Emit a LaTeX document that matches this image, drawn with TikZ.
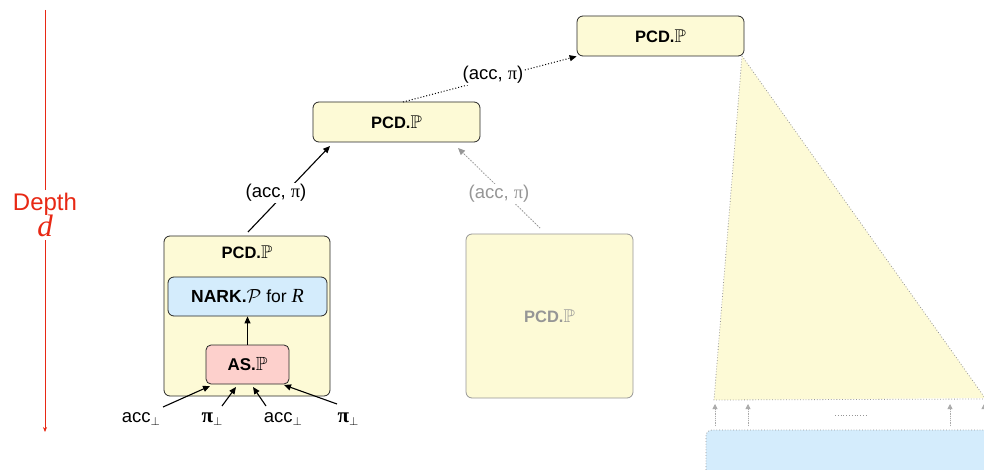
\documentclass[tikz,border=0pt]{standalone}
\usepackage{amssymb}
\usepackage{fontspec}
\setmainfont{Liberation Sans}
\newfontfamily\serifpi{Liberation Serif}
\usetikzlibrary{arrows.meta}
\definecolor{pcdyellow}{RGB}{253,250,214}
\definecolor{narkblue}{RGB}{212,236,252}
\definecolor{aspink}{RGB}{253,208,204}
\definecolor{depthred}{RGB}{232,40,20}
\definecolor{greytext}{RGB}{150,150,150}
\newcommand{\mypi}{{\serifpi π}}
\newcommand{\bbP}{\scalebox{1.12}{$\mathbb{P}$}}
\newcommand{\PCD}{\textbf{PCD.}\bbP}
\newcommand{\subperp}{\raisebox{-3pt}{\fontsize{12}{12}\selectfont$\perp$}}
\tikzset{
  x=1pt, y=-1pt,
  boxfont/.style={font=\fontsize{16.5}{19}\selectfont},
  box/.style={draw=black!85, line width=0.8pt, rounded corners=6pt, fill=pcdyellow, boxfont},
  lbl/.style={font=\fontsize{18.5}{21}\selectfont, inner sep=1pt},
  arr/.style={-{Triangle[length=7pt,width=6pt]}, line width=1.1pt},
  darr/.style={-{Triangle[length=7pt,width=6pt]}, line width=1pt, dotted},
  garr/.style={-{Triangle[length=7pt,width=6pt]}, line width=1pt, dotted, draw=greytext, fill=greytext},
  small/.style={-{Triangle[length=5pt,width=5pt]}, line width=0.8pt, densely dotted, draw=greytext!80, fill=greytext!80},
}
\begin{document}
\begin{tikzpicture}
\useasboundingbox (0,0) rectangle (984,470);
% depth arrow
\draw[depthred, line width=0.7pt, -{Stealth[length=5pt,width=4pt]}] (45,10) -- (45,432);
\node[fill=white, text=depthred, align=center, inner sep=3pt, font=\fontsize{24}{26}\selectfont] (depth) at (45,215) {Depth\\[-1pt] {\serifpi\itshape\fontsize{31}{31}\selectfont d}};

% triangle
\fill[pcdyellow] (742,56) -- (985,398) -- (714,400) -- cycle;
\draw[greytext, line width=0.8pt, dotted] (742,56) -- (985,398) (742,56) -- (714,400) -- (985,399);
% blue rect
\draw[greytext, line width=0.8pt, dotted, fill=narkblue, rounded corners=6pt] (1000,430) -- (706,430) -- (706,480);
\fill[narkblue] (708,432) rectangle (984,470);
% small arrows
\coordinate (s1) at (715,426); \coordinate (t1) at (715,404);
\coordinate (s2) at (748,426); \coordinate (t2) at (748,404);
\coordinate (s3) at (950,426); \coordinate (t3) at (950,404);
\coordinate (s4) at (984,426); \coordinate (t4) at (984,404);
\draw[small] (s1) -- (t1);
\draw[small] (s2) -- (t2);
\draw[small] (s3) -- (t3);
\draw[small] (s4) -- (t4);
\draw[greytext, line width=0.8pt, dotted] (835,415) -- (868,415);

% top and middle boxes
\node[box, minimum width=167pt, minimum height=40pt] (top) at (660.5,36) {\PCD};
\node[box, minimum width=167pt, minimum height=40pt] (mid) at (396.5,122) {\PCD};
\coordinate (midin) at (330,146);

% left big box
\node[box, minimum width=166pt, minimum height=160pt] (left) at (247,316) {};
\node[boxfont] (lefttitle) at (247,252) {\PCD};
\node[draw=black!85, line width=0.8pt, rounded corners=6pt, fill=narkblue, minimum width=159pt, minimum height=39pt, font=\fontsize{17.5}{20}\selectfont] (nark) at (247.5,296.5) {\textbf{NARK.}\scalebox{1.1}{$\mathcal{P}$} for {\serifpi\itshape\fontsize{20}{20}\selectfont R}};
\node[draw=black!85, line width=0.8pt, rounded corners=5pt, fill=aspink, minimum width=83pt, minimum height=39pt, font=\fontsize{17}{20}\selectfont] (as) at (247.5,364.5) {\textbf{AS.}\bbP};
\draw[arr] (as.north) -- (nark.south);

% inputs
\node[lbl] (i1) at (141,419) {acc\subperp};
\node[lbl] (i2) at (212,419) {{\serifpi\bfseries\fontsize{21}{21}\selectfont π}\subperp};
\node[lbl] (i3) at (283,419) {acc\subperp};
\node[lbl] (i4) at (348,419) {{\serifpi\bfseries\fontsize{21}{21}\selectfont π}\subperp};
\coordinate (e1) at (210,386);
\coordinate (e2) at (236,387);
\coordinate (e3) at (253,387);
\coordinate (e4) at (284,385);
\draw[arr] (163,407) -- (e1);
\draw[arr] (222,406) -- (e2);
\draw[arr] (266,406) -- (e3);
\draw[arr] (337,404) -- (e4);

% grey box
\node[draw=greytext, line width=0.8pt, rounded corners=6pt, fill=pcdyellow, minimum width=167pt, minimum height=164pt, text=greytext, boxfont] (grey) at (549.5,316) {\PCD};

% connectors
\draw[arr] (248,232) -- (midin);
\node[lbl, fill=white] (l1) at (276,193) {(acc, \mypi)};
\draw[darr] (403,102) -- (top.south west);
\node[lbl, fill=white] (l2) at (493,75) {(acc, \mypi)};
\draw[garr] (540,228) -- (458,148);
\node[lbl, fill=white, text=greytext] (l3) at (499,194) {(acc, \mypi)};
\end{tikzpicture}
\end{document}
